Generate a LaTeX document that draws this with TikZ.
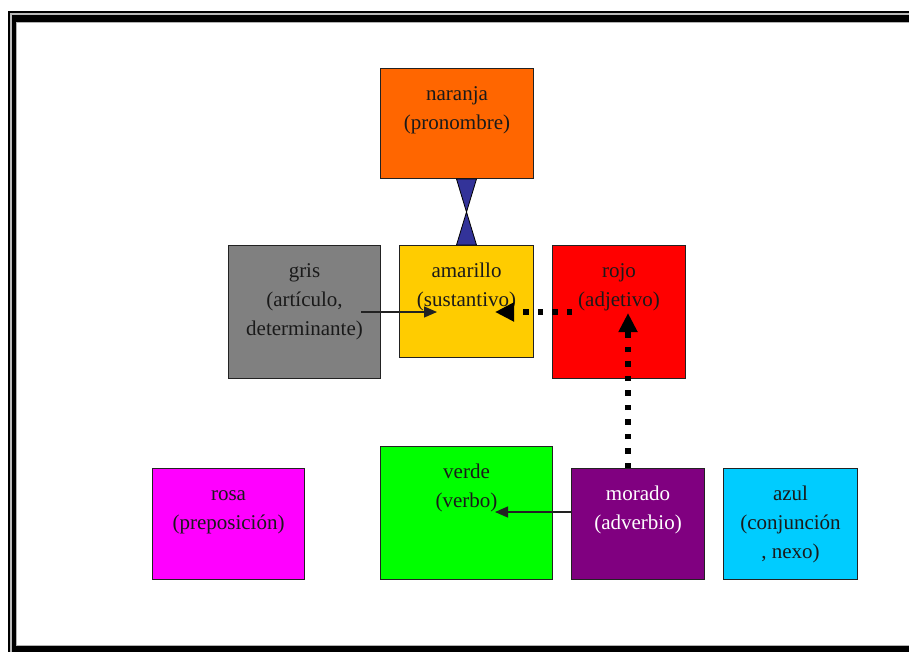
\documentclass[tikz,border=0pt]{standalone}
\usepackage{fontspec}
\setmainfont{Liberation Serif}
\usetikzlibrary{arrows.meta,calc}
\definecolor{cnar}{HTML}{FF6600}
\definecolor{cgris}{HTML}{808080}
\definecolor{cama}{HTML}{FFCC00}
\definecolor{crojo}{HTML}{FF0000}
\definecolor{crosa}{HTML}{FF00FF}
\definecolor{cverde}{HTML}{00FF00}
\definecolor{cmor}{HTML}{800080}
\definecolor{cazul}{HTML}{00CCFF}
\definecolor{chg}{HTML}{333399}
\definecolor{cedge}{HTML}{222222}
\definecolor{ctext}{HTML}{1A1A1A}
\tikzset{
  box/.style={draw=cedge, line width=1pt, anchor=north west, inner sep=0pt},
  lbl/.style={anchor=north, align=center, inner sep=0pt, text=ctext,
    font=\fontsize{21}{29}\selectfont},
  thinarrow/.style={draw=cedge, line width=1.3pt, -{Triangle[length=13pt,width=11pt]}},
  dotarrow/.style={draw=black, line width=6pt, dash pattern=on 5.5pt off 9pt,
    -{Triangle[length=19pt,width=18pt]}},
}
\begin{document}
\begin{tikzpicture}[x=1pt,y=-1pt]
\useasboundingbox (0,0) rectangle (909,651);
% frame
\fill[black] (8,11) rectangle (930,670);
\fill[gray!55] (10,13) rectangle (930,670);
\fill[black] (12,15) rectangle (930,670);
\fill[gray!60] (16,22) rectangle (930,646);
\fill[white] (17,23) rectangle (930,645);
% boxes
\node[box, fill=cnar, minimum width=153pt, minimum height=110pt] (nar) at (380,68) {};
\node[box, fill=cgris, minimum width=152pt, minimum height=133pt] (gris) at (228,245) {};
\node[box, fill=cama, minimum width=134pt, minimum height=112pt] (ama) at (399,245) {};
\node[box, fill=crojo, minimum width=133pt, minimum height=133pt] (rojo) at (552,245) {};
\node[box, fill=crosa, minimum width=152pt, minimum height=111pt] (rosa) at (152,468) {};
\node[box, fill=cverde, minimum width=172pt, minimum height=133pt] (verde) at (380,446) {};
\node[box, fill=cmor, minimum width=133pt, minimum height=111pt] (mor) at (571,468) {};
\node[box, fill=cazul, minimum width=134pt, minimum height=111pt] (azul) at (723,468) {};
% labels
\node[lbl] (tnar) at ($(nar.north)+(0,12)$) {\strut naranja\\(pronombre)};
\node[lbl] (tgris) at ($(gris.north)+(0,12)$) {\strut gris\\(artículo,\\determinante)};
\node[lbl] (tama) at ($(ama.north)+(0,12)$) {\strut amarillo\\(sustantivo)};
\node[lbl] (trojo) at ($(rojo.north)+(0,12)$) {\strut rojo\\(adjetivo)};
\node[lbl] (trosa) at ($(rosa.north)+(0,12)$) {\strut rosa\\(preposición)};
\node[lbl] (tverde) at ($(verde.north)+(0,12)$) {\strut verde\\(verbo)};
\node[lbl, text=white] (tmor) at ($(mor.north)+(0,12)$) {\strut morado\\(adverbio)};
\node[lbl] (tazul) at ($(azul.north)+(0,12)$) {\strut azul\\(conjunción\\, nexo)};
% hourglass
\coordinate (hgmid) at ($(ama.north)!0.5!(ama.north|-nar.south)$);
\filldraw[fill=chg, draw=black, line width=0.8pt]
  ($(ama.north|-nar.south)+(-10,0)$) -- ($(ama.north|-nar.south)+(10,0)$) -- (hgmid) -- cycle;
\filldraw[fill=chg, draw=black, line width=0.8pt]
  ($(ama.north)+(-10,0)$) -- ($(ama.north)+(10,0)$) -- (hgmid) -- cycle;
% connectors
\coordinate (gs) at ($(gris.north east)+(-20,67)$);
\coordinate (ge) at ($(ama.north west)+(38,67)$);
\draw[thinarrow] (gs) -- (ge);
\coordinate (rs) at ($(rojo.north west)+(20,67)$);
\coordinate (re) at ($(ama.north west)+(96,67)$);
\draw[dotarrow] (rs) -- (re);
\coordinate (ms) at ($(mor.north west)+(57,0)$);
\coordinate (me) at ($(rojo.north west)+(76,68)$);
\draw[dotarrow] (ms) -- (me);
\coordinate (vs) at ($(mor.north west)+(0,44)$);
\coordinate (ve) at ($(verde.north west)+(115,66)$);
\draw[thinarrow] (vs) -- (ve);
\end{tikzpicture}
\end{document}
